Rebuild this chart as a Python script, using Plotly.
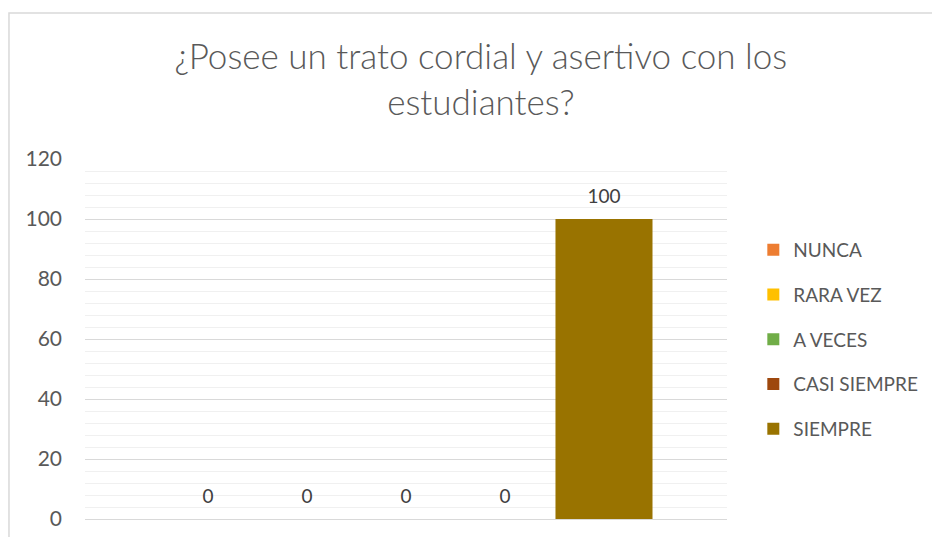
import plotly.graph_objects as go

categoria = ["¿Posee un trato cordial y asertivo con los estudiantes?"]
series = ["NUNCA", "RARA VEZ", "A VECES", "CASI SIEMPRE", "SIEMPRE"]
valores = [0, 0, 0, 0, 100]
colores = ["#ED7D31", "#FFC000", "#70AD47", "#9E480E", "#997300"]

FUENTE = "Lato, 'Open Sans', sans-serif"
GRIS = "#595959"

fig = go.Figure()
for nombre, val, col in zip(series, valores, colores):
    fig.add_trace(go.Bar(
        x=categoria, y=[val], name=nombre, legendgroup=nombre,
        marker=dict(color=col, line=dict(width=0)),
        hoverinfo="name+y",
    ))

# etiquetas de datos, agrupadas igual que las barras
for nombre, val in zip(series, valores):
    fig.add_trace(go.Scatter(
        x=categoria, y=[val], mode="markers+text", text=[val],
        textposition="top center", legendgroup=nombre, showlegend=False,
        marker=dict(size=17, opacity=0), cliponaxis=False, hoverinfo="skip",
        textfont=dict(size=19, color="#404040", family=FUENTE),
    ))

fig.update_layout(
    width=932, height=537,
    margin=dict(l=85, r=205, t=159, b=18, autoexpand=False),
    paper_bgcolor="white", plot_bgcolor="white",
    barmode="group", bargap=0.229, bargroupgap=0.02,
    scattermode="group", scattergap=0.229,
    font=dict(family=FUENTE, color=GRIS),
    title=dict(text="¿Posee un trato cordial y asertivo con los<br>estudiantes?",
               x=0.516, xanchor="center", y=0.871, yanchor="middle",
               font=dict(size=35, color=GRIS, family=FUENTE, weight=300)),
    legend=dict(x=1.041, y=0.80, xanchor="left", yanchor="top",
                font=dict(size=19, color=GRIS), tracegroupgap=17,
                bgcolor="rgba(0,0,0,0)"),
    showlegend=True,
)
fig.update_xaxes(showticklabels=False, showline=False, showgrid=False, ticks="",
                 automargin=False)
fig.update_yaxes(range=[0, 120], dtick=20, showline=False, zeroline=True,
                 zerolinecolor="#d9d9d9", zerolinewidth=1,
                 gridcolor="#d9d9d9", gridwidth=1,
                 minor=dict(dtick=4, showgrid=True, gridcolor="#f0f0f0", gridwidth=1),
                 tickfont=dict(size=21, color=GRIS), ticklabelstandoff=22,
                 automargin=False)

# borde del área del gráfico (recortado a la derecha y abajo)
fig.add_shape(type="rect", xref="paper", yref="paper",
              x0=-0.1184, x1=1.6, y0=-0.3, y1=1.4056,
              line=dict(color="#d9d9d9", width=1.5), fillcolor="rgba(0,0,0,0)",
              layer="below")

fig.write_html("out.html", config={"displayModeBar": False},
               post_script="document.body.style.margin='0';")
